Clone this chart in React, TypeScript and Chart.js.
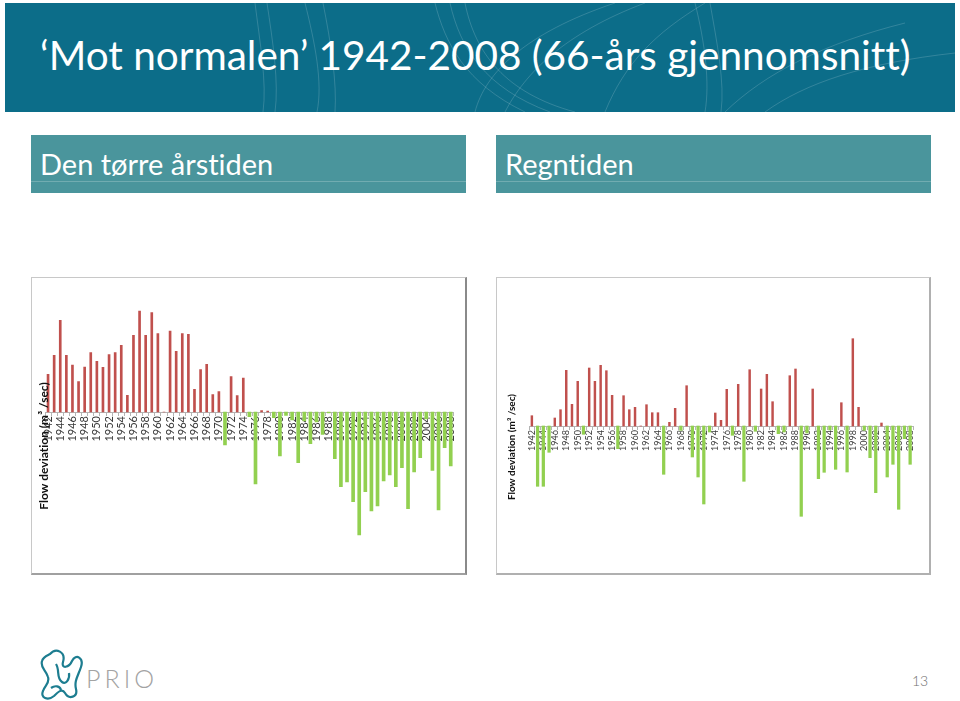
import React, { useEffect, useRef } from "react";
import { Chart, registerables } from "chart.js";

Chart.register(...registerables);

// ---------- DATA ----------
const YEARS = [
  "1942", "1943", "1944", "1945", "1946", "1947", "1948", "1949", "1950", "1951",
  "1952", "1953", "1954", "1955", "1956", "1957", "1958", "1959", "1960", "1961",
  "1962", "1963", "1964", "1965", "1966", "1967", "1968", "1969", "1970", "1971",
  "1972", "1973", "1974", "1975", "1976", "1977", "1978", "1979", "1980", "1981",
  "1982", "1983", "1984", "1985", "1986", "1987", "1988", "1989", "1990", "1991",
  "1992", "1993", "1994", "1995", "1996", "1997", "1998", "1999", "2000", "2001",
  "2002", "2003", "2004", "2005", "2006", "2007", "2008",
];

const TICK_LABELS = [
  "1942", "1944", "1946", "1948", "1950", "1952", "1954", "1956", "1958", "1960",
  "1962", "1964", "1966", "1968", "1970", "1972", "1974", "1976", "1978", "1980",
  "1982", "1984", "1986", "1988", "1990", "1992", "1994", "1996", "1998", "2000",
  "2002", "2004", "2006", "2008",
];

// Dry season flow deviation (m3/sec), 1942-2008
const DRY_SEASON = [
  37.7, 56.7, 91.7, 56.7, 47, 30.3, 45, 59.3, 50.7, 44.7,
  57.3, 59.3, 66.7, 16.7, 76.7, 101, 76.7, 99.3, 78.3, 0,
  81, 60.7, 78.3, 77.7, 22.7, 42.3, 47.7, 17.3, 20.3, -33,
  35.3, 16.3, 34, -4.7, -72, 1.5, 1, -5.7, -44, -3.3,
  -8, -50.7, -9, -31.7, -10, -22.3, -1, -46.7, -74.7, -70,
  -89.7, -123, -79.7, -99, -94, -69, -63, -74.7, -55.7, -96.7,
  -60, -45.7, -7, -58.3, -98, -35.7, -54,
];

// Rainy season flow deviation (m3/sec), 1942-2008
const WET_SEASON = [
  10.3, -60.3, -60.3, -26.3, 8, 16.3, 55.7, 21.7, 44.7, -8.3,
  58, 44.7, 60.7, 55.3, 30.7, -22.7, 30.3, 16.3, 18.7, 0,
  21.3, 13.3, 13.3, -48.3, 3.7, 17.7, -4.3, 40.3, -31, -51,
  -78, -6, 13, 5.7, 36.7, -9.3, 41.7, -55.3, 56.3, -5.3,
  37, 51.7, 24.3, -7.7, -6, 50.3, 57, -90.3, -7, 37,
  -52.7, -46.3, -4, -43.3, 23.3, -46, 87.3, 18.7, -4.3, -31.7,
  -66.7, 3, -51, -38.3, -83.3, -12.7, -38.3,
];

const Y_TITLE = "Flow deviation (m\u00b3 /sec)";
const RED = "#c0504d";
const GREEN = "#92d050";
const AXIS = "#b4b4b4";

// ---------- PLUGIN: y title placed like the Excel export ----------
const yTitlePlugin = {
  id: "yTitle",
  afterDraw(chart: any, _args: any, opts: any) {
    const { ctx, chartArea } = chart;
    const y0 = chart.scales.y.getPixelForValue(0);
    ctx.save();
    ctx.translate(chartArea.left + opts.dx, y0 + opts.dy);
    ctx.rotate(-Math.PI / 2);
    ctx.font = opts.font;
    ctx.fillStyle = "#111";
    ctx.textAlign = "center";
    ctx.textBaseline = "middle";
    ctx.fillText(opts.text, 0, 0);
    ctx.restore();
  },
};

type Cfg = {
  width: number;
  height: number;
  padding: { left: number; right: number; top: number; bottom: number };
  min: number;
  max: number;
  redW: number;
  greenW: number;
  tickSize: number;
  titleFont: string;
  dx: number;
  dy: number;
};

function FlowChart({ values, cfg }: { values: number[]; cfg: Cfg }) {
  const ref = useRef<HTMLCanvasElement>(null);
  useEffect(() => {
    const chart = new Chart(ref.current as HTMLCanvasElement, {
      type: "bar",
      data: {
        labels: YEARS,
        datasets: [
          {
            data: values.map((v) => (v >= 0 ? v : null)),
            backgroundColor: RED,
            barThickness: cfg.redW,
            grouped: false,
          } as any,
          {
            data: values.map((v) => (v < 0 ? v : null)),
            backgroundColor: GREEN,
            barThickness: cfg.greenW,
            grouped: false,
          } as any,
        ],
      },
      options: {
        animation: false,
        responsive: false,
        maintainAspectRatio: false,
        layout: { padding: cfg.padding },
        plugins: {
          legend: { display: false },
          tooltip: { enabled: false },
          yTitle: { text: Y_TITLE, font: cfg.titleFont, dx: cfg.dx, dy: cfg.dy },
        } as any,
        scales: {
          x: {
            position: { y: 0 } as any,
            offset: true,
            grid: {
              drawOnChartArea: false,
              drawTicks: true,
              tickLength: 3,
              color: AXIS,
            },
            border: { color: AXIS, width: 1 },
            ticks: {
              autoSkip: false,
              maxRotation: 90,
              minRotation: 90,
              padding: 1,
              color: "#3a3a3a",
              font: { family: "Lato", size: cfg.tickSize },
              callback: (_v: any, i: number) =>
                TICK_LABELS.includes(YEARS[i]) ? YEARS[i] : "",
            },
          },
          y: { display: false, min: cfg.min, max: cfg.max },
        },
      },
      plugins: [yTitlePlugin as any],
    });
    return () => chart.destroy();
  }, []);
  return (
    <canvas
      ref={ref}
      width={cfg.width}
      height={cfg.height}
      style={{ width: cfg.width, height: cfg.height, display: "block" }}
    />
  );
}

const LEFT_CFG: Cfg = {
  width: 433,
  height: 295,
  padding: { left: 13, right: 8, top: 29, bottom: 31 },
  min: -130,
  max: 105,
  redW: 2,
  greenW: 3,
  tickSize: 11,
  titleFont: "bold 12px Lato",
  dx: -1,
  dy: 34,
};

const RIGHT_CFG: Cfg = {
  width: 432,
  height: 295,
  padding: { left: 32, right: 16, top: 53, bottom: 52 },
  min: -95,
  max: 95,
  redW: 1.8,
  greenW: 2.6,
  tickSize: 9,
  titleFont: "bold 10px Lato",
  dx: -17,
  dy: 21,
};

function HeaderLines() {
  const s = "rgba(255,255,255,0.16)";
  return (
    <svg width={950} height={109} style={{ position: "absolute", left: 0, top: 0 }}>
      <g fill="none" stroke={s} strokeWidth={1}>
        <path d="M250 0 C255 40 262 80 258 109" />
        <path d="M262 0 C268 40 274 80 270 109" />
        <path d="M300 0 C310 40 318 80 312 109" />
        <path d="M318 0 C326 40 332 80 330 109" />
        <path d="M430 0 C440 40 460 80 520 109" />
        <path d="M445 0 C455 45 480 85 545 109" />
        <path d="M460 0 C470 50 500 90 570 109" />
        <path d="M470 109 C480 70 520 30 610 0" />
        <path d="M500 109 C520 70 560 30 640 0" />
        <path d="M600 109 C620 60 650 30 700 0" />
        <path d="M690 0 C700 40 705 80 700 109" />
        <path d="M705 0 C712 40 720 80 716 109" />
        <path d="M720 109 C760 70 820 40 900 20" />
        <path d="M760 109 C800 80 860 60 950 50" />
      </g>
    </svg>
  );
}

export default function App() {
  const teal = "#0c6d89";
  const boxTeal = "#4a959c";
  return (
    <div
      style={{
        position: "fixed",
        left: 0,
        top: 0,
        width: 960,
        height: 701,
        background: "#ffffff",
        overflow: "hidden",
        fontFamily: "Lato, sans-serif",
        fontVariantLigatures: "none",
      }}
    >
      {/* Header band */}
      <div
        style={{
          position: "absolute",
          left: 5,
          top: 3,
          width: 950,
          height: 109,
          background: teal,
          overflow: "hidden",
        }}
      >
        <HeaderLines />
        <div
          style={{
            position: "absolute",
            left: 35,
            top: 27,
            fontSize: 40.5,
            lineHeight: "50px",
            color: "#fff",
            whiteSpace: "nowrap",
          }}
        >
          {"\u2018Mot normalen\u2019 1942-2008 (66-\u00e5rs gjennomsnitt)"}
        </div>
      </div>

      {/* Sub headers */}
      {[
        { left: 31, text: "Den t\u00f8rre \u00e5rstiden" },
        { left: 496, text: "Regntiden" },
      ].map((b) => (
        <div
          key={b.text}
          style={{
            position: "absolute",
            left: b.left,
            top: 135,
            width: 435,
            height: 58,
            background: boxTeal,
          }}
        >
          <div
            style={{
              position: "absolute",
              left: 0,
              right: 0,
              top: 46,
              height: 1,
              background: "rgba(255,255,255,0.22)",
            }}
          />
          <div
            style={{
              position: "absolute",
              left: 9,
              top: 12,
              fontSize: 29,
              lineHeight: "34px",
              color: "#fff",
              whiteSpace: "nowrap",
            }}
          >
            {b.text}
          </div>
        </div>
      ))}

      {/* Chart panels */}
      <div
        style={{
          position: "absolute",
          left: 31,
          top: 277,
          width: 433,
          height: 295,
          borderTop: "1px solid #c8c8c8",
          borderLeft: "1px solid #c8c8c8",
          borderRight: "2px solid #8a8a8a",
          borderBottom: "2px solid #a0a0a0",
          background: "#fff",
        }}
      >
        <FlowChart values={DRY_SEASON} cfg={LEFT_CFG} />
      </div>
      <div
        style={{
          position: "absolute",
          left: 496,
          top: 277,
          width: 432,
          height: 295,
          border: "1px solid #c8c8c8",
          borderRight: "2px solid #b0b0b0",
          borderBottom: "2px solid #b0b0b0",
          background: "#fff",
        }}
      >
        <FlowChart values={WET_SEASON} cfg={RIGHT_CFG} />
      </div>

      {/* PRIO logo */}
      <svg
        width={50}
        height={52}
        style={{ position: "absolute", left: 36, top: 648 }}
      >
        <g fill="none" stroke="#1d7d90" strokeWidth={2.2} strokeLinejoin="round">
          <path d="M14 6 C20 -1 30 4 27 14 C25 21 33 20 36 13 C40 5 48 10 45 19 C42 28 38 33 40 41 C42 49 33 52 29 45 C26 40 22 44 18 48 C12 53 4 50 7 43 C9 37 14 35 12 29 C10 22 4 20 6 13 C7 9 10 8 14 6 Z" />
          <path d="M20 16 C24 22 20 30 26 34 C30 37 34 31 33 25" />
          <path d="M15 40 C19 37 24 38 25 42" />
        </g>
      </svg>
      <div
        style={{
          position: "absolute",
          left: 86,
          top: 664,
          fontSize: 25,
          fontWeight: 300,
          letterSpacing: 4,
          color: "#a3a3a3",
          lineHeight: "28px",
        }}
      >
        PRIO
      </div>

      {/* Page number */}
      <div
        style={{
          position: "absolute",
          left: 912,
          top: 672,
          fontSize: 14,
          fontWeight: 300,
          color: "#707070",
          lineHeight: "18px",
        }}
      >
        13
      </div>
    </div>
  );
}
